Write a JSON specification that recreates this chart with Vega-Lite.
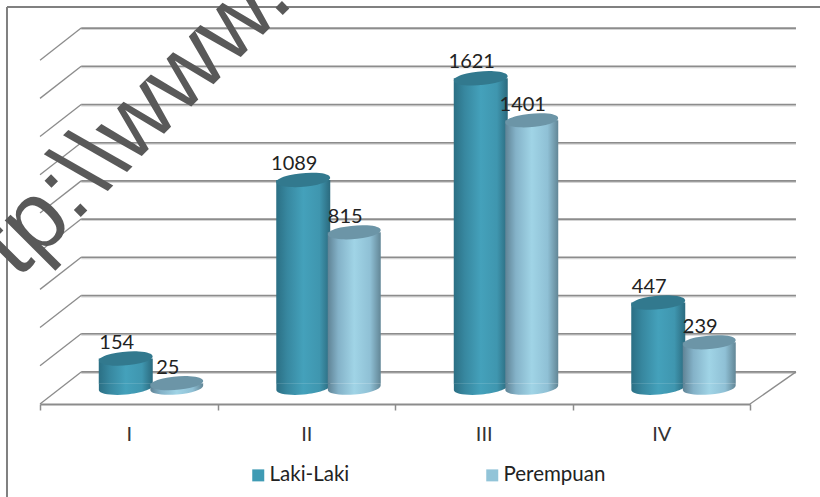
{
"$schema":"https://vega.github.io/schema/vega-lite/v6.json",
"width":820,"height":497,"autosize":{"type":"none"},"padding":0,
"background":"white","view":{"stroke":null},
"datasets":{
"bars":[
{"kuartal":"I","series":"Laki-Laki","jumlah":154},{"kuartal":"I","series":"Perempuan","jumlah":25},
{"kuartal":"II","series":"Laki-Laki","jumlah":1089},{"kuartal":"II","series":"Perempuan","jumlah":815},
{"kuartal":"III","series":"Laki-Laki","jumlah":1621},{"kuartal":"III","series":"Perempuan","jumlah":1401},
{"kuartal":"IV","series":"Laki-Laki","jumlah":447},{"kuartal":"IV","series":"Perempuan","jumlah":239}],
"grid":[{"u0":0.232,"u1":4.259,"level":84},{"u0":0.232,"u1":4.259,"level":284},{"u0":0.232,"u1":4.259,"level":484},{"u0":0.232,"u1":4.259,"level":684},{"u0":0.232,"u1":4.259,"level":884},{"u0":0.232,"u1":4.259,"level":1084},{"u0":0.232,"u1":4.259,"level":1284},{"u0":0.232,"u1":4.259,"level":1484},{"u0":0.232,"u1":4.259,"level":1684},{"u0":0.232,"u1":4.259,"level":1884}],
"side":[{"u0":0,"u1":0.232,"lo":-84,"hi":84},{"u0":0,"u1":0.232,"lo":116,"hi":284},{"u0":0,"u1":0.232,"lo":316,"hi":484},{"u0":0,"u1":0.232,"lo":516,"hi":684},{"u0":0,"u1":0.232,"lo":716,"hi":884},{"u0":0,"u1":0.232,"lo":916,"hi":1084},{"u0":0,"u1":0.232,"lo":1116,"hi":1284},{"u0":0,"u1":0.232,"lo":1316,"hi":1484},{"u0":0,"u1":0.232,"lo":1516,"hi":1684},{"u0":0,"u1":0.232,"lo":1716,"hi":1884},{"u0":4,"u1":4.259,"lo":-84,"hi":84}]
},
"layer":[
{"data":{"values":[{"u":-0.186,"lo":-571,"hi":1995}]},"mark":{"type":"rule","color":"#808080","strokeWidth":2},
 "encoding":{"x":{"field":"u","type":"quantitative","scale":{"domain":[-0.2254,4.3944],"nice":false,"zero":false},"axis":null},
 "y":{"field":"lo","type":"quantitative","scale":{"domain":[-571,2031],"nice":false,"zero":false},"axis":null},"y2":{"field":"hi"}}},
{"data":{"values":[{"u0":-0.186,"u1":4.3944,"hi":1995}]},"mark":{"type":"rule","color":"#808080","strokeWidth":2},
 "encoding":{"x":{"field":"u0","type":"quantitative","scale":{"domain":[-0.2254,4.3944],"nice":false,"zero":false},"axis":null},"x2":{"field":"u1"},"y":{"field":"hi","type":"quantitative","axis":null}}},
{"data":{"name":"grid"},"mark":{"type":"rule","color":"#d4d4d4","strokeWidth":2,"yOffset":1},
 "encoding":{"x":{"field":"u0","type":"quantitative","scale":{"domain":[-0.2254,4.3944],"nice":false,"zero":false},"axis":null},"x2":{"field":"u1"},"y":{"field":"level","type":"quantitative","axis":null}}},
{"data":{"name":"grid"},"mark":{"type":"rule","color":"#8c8c8c","strokeWidth":1.6},
 "encoding":{"x":{"field":"u0","type":"quantitative","scale":{"domain":[-0.2254,4.3944],"nice":false,"zero":false},"axis":null},"x2":{"field":"u1"},"y":{"field":"level","type":"quantitative","axis":null}}},
{"data":{"name":"side"},"mark":{"type":"line","color":"#8c8c8c","strokeWidth":1.3},
 "transform":[{"fold":["u0","u1"],"as":["k","uu"]},{"calculate":"datum.k==='u0'?datum.lo:datum.hi","as":"yy"},{"calculate":"datum.lo+'|'+datum.u0","as":"gid"}],
 "encoding":{"x":{"field":"uu","type":"quantitative","scale":{"domain":[-0.2254,4.3944],"nice":false,"zero":false},"axis":null},"y":{"field":"yy","type":"quantitative","axis":null},"detail":{"field":"gid"}}},
{"data":{"values":[{"u":1.44,"v":2020,"t":"tp:\\\\www."}]},"mark":{"type":"text","font":"Liberation Sans","fontSize":97,"angle":315,"color":"#595959","align":"right","baseline":"alphabetic"},
 "encoding":{"x":{"field":"u","type":"quantitative","scale":{"domain":[-0.2254,4.3944],"nice":false,"zero":false},"axis":null},"y":{"field":"v","type":"quantitative","axis":null},"text":{"field":"t"}}},

{"data":{"name":"bars"},"transform":[{"filter":"datum.series==='Laki-Laki'"}],
 "mark":{"type":"point","filled":true,"opacity":1,"size":2916,"xOffset":-3,"shape":"M-.996,-.16 L-.996,.087 A1,.25 -5 0 0 .996,-.087 L.996,-.16 Z","fill":{"gradient":"linear","x1":0,"x2":1,"y1":0,"y2":0,"stops":[{"offset":0,"color":"#2b6f84"},{"offset":0.2,"color":"#37879f"},{"offset":0.5,"color":"#44a1bb"},{"offset":0.8,"color":"#3f96af"},{"offset":1,"color":"#2b6a7e"}]}},
 "encoding":{"x":{"field":"kuartal","type":"nominal","sort":["I","II","III","IV"],"scale":{"range":[40,750],"paddingInner":0,"paddingOuter":0},"axis":null},"y":{"datum":0,"type":"quantitative","axis":null}}},
{"data":{"name":"bars"},"transform":[{"filter":"datum.series==='Laki-Laki'"}],
 "mark":{"type":"bar","width":54,"xOffset":-3,"fill":{"gradient":"linear","x1":0,"x2":1,"y1":0,"y2":0,"stops":[{"offset":0,"color":"#2b6f84"},{"offset":0.2,"color":"#37879f"},{"offset":0.5,"color":"#44a1bb"},{"offset":0.8,"color":"#3f96af"},{"offset":1,"color":"#2b6a7e"}]}},
 "encoding":{"x":{"field":"kuartal","type":"nominal","sort":["I","II","III","IV"],"scale":{"range":[40,750],"paddingInner":0,"paddingOuter":0},
  "axis":{"title":null,"orient":"bottom","offset":-93,"tickBand":"extent","labelAngle":0,"domainColor":"#8c8c8c","domainWidth":2,"tickColor":"#8c8c8c","tickWidth":1.5,"tickSize":6,"labelFont":"Lato","labelFontSize":20,"labelColor":"#333333","labelPadding":14,"grid":false}},
  "y":{"field":"jumlah","type":"quantitative","stack":null,"axis":null},"y2":{"datum":22}}},
{"data":{"name":"bars"},"transform":[{"filter":"datum.series==='Laki-Laki'"}],
 "mark":{"type":"point","filled":true,"opacity":1,"size":2916,"xOffset":-3,"shape":"M-.996,.087 A1,.25 -5 1 1 .996,-.087 A1,.25 -5 1 1 -.996,.087 Z","fill":"#32798e"},
 "encoding":{"x":{"field":"kuartal","type":"nominal","sort":["I","II","III","IV"],"scale":{"range":[40,750],"paddingInner":0,"paddingOuter":0},"axis":null},"y":{"field":"jumlah","type":"quantitative","axis":null}}},

{"data":{"name":"bars"},"transform":[{"filter":"datum.series==='Perempuan'"}],
 "mark":{"type":"point","filled":true,"opacity":1,"size":2809,"xOffset":48,"shape":"M-.996,-.16 L-.996,.087 A1,.25 -5 0 0 .996,-.087 L.996,-.16 Z","fill":{"gradient":"linear","x1":0,"x2":1,"y1":0,"y2":0,"stops":[{"offset":0,"color":"#5f8395"},{"offset":0.2,"color":"#84b2c8"},{"offset":0.5,"color":"#a0d4e6"},{"offset":0.8,"color":"#8fc0d5"},{"offset":1,"color":"#628696"}]}},
 "encoding":{"x":{"field":"kuartal","type":"nominal","sort":["I","II","III","IV"],"scale":{"range":[40,750],"paddingInner":0,"paddingOuter":0},"axis":null},"y":{"datum":0,"type":"quantitative","axis":null}}},
{"data":{"name":"bars"},"transform":[{"filter":"datum.series==='Perempuan'"}],
 "mark":{"type":"bar","width":53,"xOffset":48,"fill":{"gradient":"linear","x1":0,"x2":1,"y1":0,"y2":0,"stops":[{"offset":0,"color":"#5f8395"},{"offset":0.2,"color":"#84b2c8"},{"offset":0.5,"color":"#a0d4e6"},{"offset":0.8,"color":"#8fc0d5"},{"offset":1,"color":"#628696"}]}},
 "encoding":{"x":{"field":"kuartal","type":"nominal","sort":["I","II","III","IV"],"scale":{"range":[40,750],"paddingInner":0,"paddingOuter":0},"axis":null},"y":{"field":"jumlah","type":"quantitative","stack":null,"axis":null},"y2":{"datum":22}}},
{"data":{"name":"bars"},"transform":[{"filter":"datum.series==='Perempuan'"}],
 "mark":{"type":"point","filled":true,"opacity":1,"size":2809,"xOffset":48,"shape":"M-.996,.087 A1,.25 -5 1 1 .996,-.087 A1,.25 -5 1 1 -.996,.087 Z","fill":"#6c95a7"},
 "encoding":{"x":{"field":"kuartal","type":"nominal","sort":["I","II","III","IV"],"scale":{"range":[40,750],"paddingInner":0,"paddingOuter":0},"axis":null},"y":{"field":"jumlah","type":"quantitative","axis":null}}},

{"data":{"name":"bars"},"transform":[{"filter":"datum.series==='Laki-Laki'"}],
 "mark":{"type":"text","font":"Lato","fontSize":20,"color":"#222222","xOffset":-12,"yOffset":-16,"baseline":"middle"},
 "encoding":{"x":{"field":"kuartal","type":"nominal","sort":["I","II","III","IV"],"scale":{"range":[40,750],"paddingInner":0,"paddingOuter":0},"axis":null},"y":{"field":"jumlah","type":"quantitative","axis":null},"text":{"field":"jumlah","type":"quantitative","format":"d"}}},
{"data":{"name":"bars"},"transform":[{"filter":"datum.series==='Perempuan'"}],
 "mark":{"type":"text","font":"Lato","fontSize":20,"color":"#222222","xOffset":39,"yOffset":-15,"baseline":"middle"},
 "encoding":{"x":{"field":"kuartal","type":"nominal","sort":["I","II","III","IV"],"scale":{"range":[40,750],"paddingInner":0,"paddingOuter":0},"axis":null},"y":{"field":"jumlah","type":"quantitative","axis":null},"text":{"field":"jumlah","type":"quantitative","format":"d"}}},

{"data":{"name":"bars"},"mark":{"type":"point","filled":true,"size":0,"shape":"square"},
 "encoding":{"x":{"field":"kuartal","type":"nominal","axis":null},"y":{"field":"jumlah","type":"quantitative","axis":null},
 "color":{"field":"series","type":"nominal","scale":{"domain":["Laki-Laki","Perempuan"],"range":["#3F9BB4","#92C4D8"]},
 "legend":{"title":null,"orient":"none","legendX":248,"legendY":465,"columns":2,"columnPadding":132,"symbolType":"square","symbolSize":144,"symbolOpacity":1,"symbolStrokeWidth":0,"labelFont":"Lato","labelFontSize":20.5,"labelColor":"#222222","labelOffset":1,"padding":0}}}}
],
"resolve":{"scale":{"x":"independent"}}
}
